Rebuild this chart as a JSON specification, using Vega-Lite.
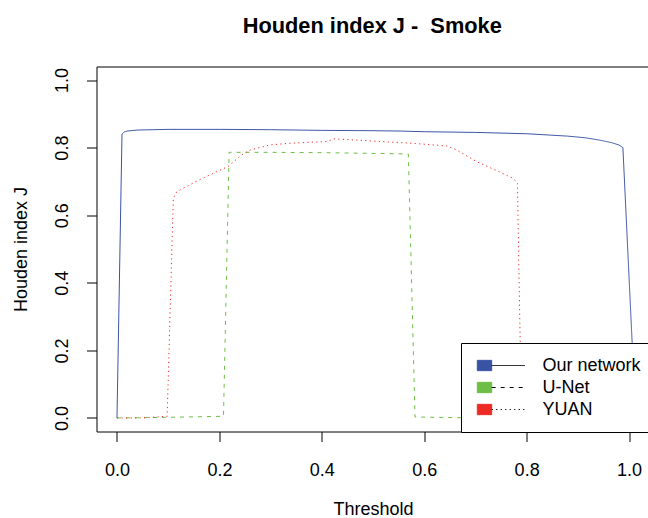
{
  "$schema": "https://vega.github.io/schema/vega-lite/v6.json",
  "width": 551.5,
  "height": 365,
  "autosize": {"type": "none"},
  "padding": {"left": 96.5, "top": 66.5, "right": 0, "bottom": 86.5},
  "background": "white",
  "config": {
    "font": "Liberation Sans",
    "view": {"stroke": "black", "strokeWidth": 1}
  },
  "title": {
    "text": "Houden index J -\u00a0 Smoke",
    "font": "Liberation Sans",
    "fontSize": 21.8,
    "fontWeight": "bold",
    "color": "black",
    "anchor": "middle",
    "frame": "group",
    "baseline": "alphabetic",
    "offset": 12
  },
  "data": {
    "values": [
      {"method": "Our network", "threshold": 0, "J": 0},
      {"method": "Our network", "threshold": 0.0098, "J": 0.84},
      {"method": "Our network", "threshold": 0.014, "J": 0.846},
      {"method": "Our network", "threshold": 0.02, "J": 0.849},
      {"method": "Our network", "threshold": 0.04, "J": 0.852},
      {"method": "Our network", "threshold": 0.07, "J": 0.853},
      {"method": "Our network", "threshold": 0.1, "J": 0.854},
      {"method": "Our network", "threshold": 0.2, "J": 0.854},
      {"method": "Our network", "threshold": 0.3, "J": 0.853},
      {"method": "Our network", "threshold": 0.4, "J": 0.851},
      {"method": "Our network", "threshold": 0.5, "J": 0.85},
      {"method": "Our network", "threshold": 0.553, "J": 0.849},
      {"method": "Our network", "threshold": 0.6, "J": 0.847},
      {"method": "Our network", "threshold": 0.7, "J": 0.845},
      {"method": "Our network", "threshold": 0.8, "J": 0.841},
      {"method": "Our network", "threshold": 0.846, "J": 0.837},
      {"method": "Our network", "threshold": 0.88, "J": 0.834},
      {"method": "Our network", "threshold": 0.915, "J": 0.829},
      {"method": "Our network", "threshold": 0.943, "J": 0.822},
      {"method": "Our network", "threshold": 0.965, "J": 0.815},
      {"method": "Our network", "threshold": 0.98, "J": 0.808},
      {"method": "Our network", "threshold": 0.988, "J": 0.8},
      {"method": "Our network", "threshold": 1.013, "J": 0},
      {"method": "U-Net", "threshold": 0, "J": 0},
      {"method": "U-Net", "threshold": 0.1, "J": 0.002},
      {"method": "U-Net", "threshold": 0.208, "J": 0.005},
      {"method": "U-Net", "threshold": 0.219, "J": 0.786},
      {"method": "U-Net", "threshold": 0.3, "J": 0.786},
      {"method": "U-Net", "threshold": 0.4, "J": 0.785},
      {"method": "U-Net", "threshold": 0.5, "J": 0.783},
      {"method": "U-Net", "threshold": 0.569, "J": 0.781},
      {"method": "U-Net", "threshold": 0.582, "J": 0.003},
      {"method": "U-Net", "threshold": 0.7, "J": 0},
      {"method": "U-Net", "threshold": 0.8, "J": 0},
      {"method": "U-Net", "threshold": 1.0, "J": 0},
      {"method": "YUAN", "threshold": 0, "J": 0},
      {"method": "YUAN", "threshold": 0.05, "J": 0},
      {"method": "YUAN", "threshold": 0.098, "J": 0.005},
      {"method": "YUAN", "threshold": 0.11, "J": 0.65},
      {"method": "YUAN", "threshold": 0.117, "J": 0.67},
      {"method": "YUAN", "threshold": 0.156, "J": 0.701},
      {"method": "YUAN", "threshold": 0.195, "J": 0.729},
      {"method": "YUAN", "threshold": 0.217, "J": 0.744},
      {"method": "YUAN", "threshold": 0.243, "J": 0.778},
      {"method": "YUAN", "threshold": 0.26, "J": 0.793},
      {"method": "YUAN", "threshold": 0.299, "J": 0.808},
      {"method": "YUAN", "threshold": 0.338, "J": 0.813},
      {"method": "YUAN", "threshold": 0.41, "J": 0.818},
      {"method": "YUAN", "threshold": 0.425, "J": 0.826},
      {"method": "YUAN", "threshold": 0.514, "J": 0.818},
      {"method": "YUAN", "threshold": 0.553, "J": 0.815},
      {"method": "YUAN", "threshold": 0.592, "J": 0.811},
      {"method": "YUAN", "threshold": 0.644, "J": 0.805},
      {"method": "YUAN", "threshold": 0.663, "J": 0.793},
      {"method": "YUAN", "threshold": 0.702, "J": 0.759},
      {"method": "YUAN", "threshold": 0.774, "J": 0.709},
      {"method": "YUAN", "threshold": 0.782, "J": 0.694},
      {"method": "YUAN", "threshold": 0.79, "J": 0},
      {"method": "YUAN", "threshold": 1.0, "J": 0}
    ]
  },
  "mark": {"type": "line", "strokeWidth": 1, "clip": true},
  "encoding": {
    "x": {
      "field": "threshold",
      "type": "quantitative",
      "scale": {"domain": [-0.04, 1.037], "nice": false, "zero": false},
      "axis": {
        "values": [0, 0.2, 0.4, 0.6, 0.8, 1],
        "format": ".1f",
        "title": "Threshold",
        "grid": false,
        "domain": false,
        "tickSize": 10,
        "tickColor": "black",
        "tickWidth": 1,
        "labelFontSize": 18,
        "labelColor": "black",
        "labelBaseline": "alphabetic",
        "labelPadding": 34,
        "labelFlush": false,
        "labelOverlap": false,
        "titleFontSize": 18,
        "titleFontWeight": "normal",
        "titleColor": "black",
        "titleX": 276.5,
        "titleY": 83,
        "titleAlign": "center",
        "titleBaseline": "alphabetic"
      }
    },
    "y": {
      "field": "J",
      "type": "quantitative",
      "scale": {"domain": [-0.04, 1.04], "nice": false, "zero": false},
      "axis": {
        "values": [0, 0.2, 0.4, 0.6, 0.8, 1],
        "format": ".1f",
        "title": "Houden index J",
        "grid": false,
        "domain": false,
        "tickSize": 10,
        "tickColor": "black",
        "tickWidth": 1,
        "labelFontSize": 18,
        "labelColor": "black",
        "labelAngle": -90,
        "labelAlign": "center",
        "labelBaseline": "alphabetic",
        "labelPadding": 19.5,
        "labelOverlap": false,
        "titleFontSize": 18,
        "titleFontWeight": "normal",
        "titleColor": "black",
        "titleAngle": -90,
        "titleX": -69.8,
        "titleY": 182.5,
        "titleAlign": "center",
        "titleBaseline": "alphabetic"
      }
    },
    "color": {
      "field": "method",
      "type": "nominal",
      "scale": {"domain": ["Our network", "U-Net", "YUAN"], "range": ["#3953A4", "#6CBE45", "#EE2A24"]},
      "legend": {
        "title": null,
        "orient": "none",
        "legendX": 364.5,
        "legendY": 276.5,
        "padding": 13.5,
        "fillColor": "white",
        "strokeColor": "black",
        "symbolType": "M-1.2,-1H1.59V1H-1.2Z",
        "symbolSize": 106,
        "symbolStrokeWidth": 1,
        "labelFontSize": 18,
        "labelColor": "black",
        "labelOffset": 50,
        "rowPadding": 4,
        "encode": {
          "symbols": {
            "update": {
              "fill": {"signal": "scale('color', datum.value)"},
              "stroke": {"value": "black"},
              "strokeWidth": {"value": 1},
              "fillOpacity": {"value": 1},
              "opacity": {"value": 1}
            }
          }
        }
      }
    },
    "strokeDash": {
      "field": "method",
      "type": "nominal",
      "scale": {"range": [[1, 0], [4, 5], [1.2, 3.3]]},
      "legend": {
        "title": null,
        "orient": "none",
        "legendX": 364.5,
        "legendY": 276.5,
        "padding": 13.5,
        "symbolType": "M1.59,0H8.06",
        "symbolSize": 106,
        "symbolStrokeWidth": 1,
        "symbolStrokeColor": "black",
        "labelFontSize": 18,
        "labelOffset": 50,
        "labelOpacity": 0,
        "rowPadding": 4,
        "encode": {
          "symbols": {
            "update": {
              "stroke": {"value": "black"},
              "fill": {"value": "transparent"},
              "opacity": {"value": 1}
            }
          }
        }
      }
    }
  }
}
